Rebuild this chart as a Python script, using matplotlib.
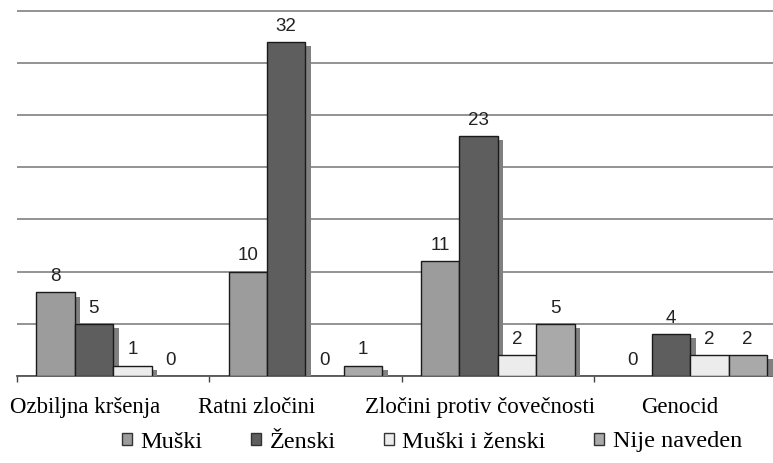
import numpy as np
import matplotlib
matplotlib.use("Agg")
import matplotlib.pyplot as plt
import matplotlib.patheffects as pe
from matplotlib.patches import Rectangle

# data
categories = ["Ozbiljna kršenja", "Ratni zločini", "Zločini protiv čovečnosti", "Genocid"]
series = ["Muški", "Ženski", "Muški i ženski", "Nije naveden"]
muski = [8, 10, 11, 0]
zenski = [5, 32, 23, 4]
muski_i_zenski = [1, 0, 2, 2]
nije_naveden = [0, 1, 5, 2]
values = [muski, zenski, muski_i_zenski, nije_naveden]

colors = ["#9c9c9c", "#5e5e5e", "#ececec", "#a9a9a9"]
# category labels sit a little off-centre in the original
label_offset = [0.354, 0.248, 0.408, 0.448]

fig = plt.figure(figsize=(7.73, 4.63), dpi=100)
ax = fig.add_axes([17 / 773, 0.188, 1 - 17 / 773, 0.9836 - 0.188])

x = np.arange(len(categories))
w = 0.2
shadow = [pe.SimplePatchShadow(offset=(4, -3), shadow_rgbFace=(0.5, 0.5, 0.5), alpha=1), pe.Normal()]
for i, (vals, col, name) in enumerate(zip(values, colors, series)):
    pos = x + 0.1 + w * i + w / 2
    bars = ax.bar(pos, vals, width=w, color=col, edgecolor="#1a1a1a",
                  linewidth=1.0, zorder=3)
    for b, v in zip(bars, vals):
        if v > 0:
            b.set_path_effects(shadow)
        else:
            b.set_visible(False)
        ax.annotate(str(v), (b.get_x() + b.get_width() / 2, v),
                    xytext=(0, 8), textcoords="offset points",
                    ha="center", va="baseline", fontsize=13.5,
                    family="Liberation Sans", color="#222222", zorder=5)

ax.set_xlim(0, (773 - 17) / 192.3)
ax.set_ylim(0, 35.3)
ax.set_yticks(np.arange(0, 36, 5))
ax.yaxis.grid(True, color="#8a8a8a", linewidth=1.3)
ax.set_axisbelow(True)
ax.tick_params(axis="y", length=0, labelleft=False)

ax.set_xticks(x + np.array(label_offset))
ax.set_xticklabels(categories, family="Liberation Serif", fontsize=16.5)
ax.set_xticks(np.arange(0, 4), minor=True)
ax.tick_params(axis="x", which="major", length=0, pad=15)
ax.tick_params(axis="x", which="minor", length=4, width=1, color="#444444")

for s in ["left", "top", "right"]:
    ax.spines[s].set_visible(False)
ax.spines["bottom"].set_color("#555555")
ax.spines["bottom"].set_linewidth(1.3)

handles = [Rectangle((0, 0), 1, 1, facecolor=c, edgecolor="#333333", linewidth=1.0) for c in colors]
leg = fig.legend(handles, series, loc="center", bbox_to_anchor=(432 / 773, 1 - 442 / 463),
                 ncol=4, frameon=False, prop={"family": "Liberation Serif", "size": 17.5},
                 handlelength=0.4, handleheight=0.4, handletextpad=0.35,
                 columnspacing=2.0, borderpad=0)

fig.savefig("out.png", dpi=100)
